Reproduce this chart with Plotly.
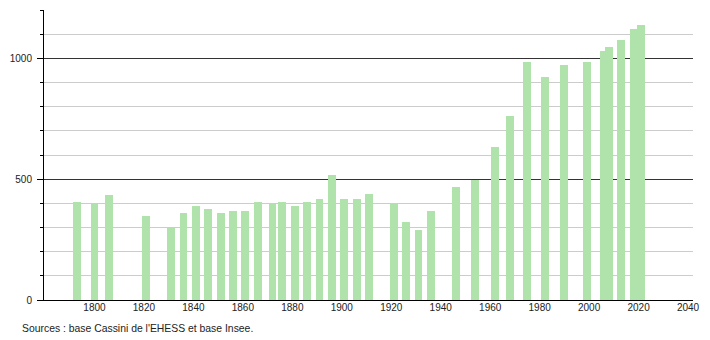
import plotly.graph_objects as go

years = [1793, 1800, 1806, 1821, 1831, 1836, 1841, 1846, 1851, 1856, 1861, 1866,
         1872, 1876, 1881, 1886, 1891, 1896, 1901, 1906, 1911, 1921, 1926, 1931,
         1936, 1946, 1954, 1962, 1968, 1975, 1982, 1990, 1999, 2006, 2008, 2013,
         2018, 2021]
population = [404, 398, 433, 348, 297, 362, 391, 377, 358, 369, 369, 406,
              401, 406, 390, 405, 419, 518, 418, 418, 440, 402, 323, 290,
              369, 467, 496, 632, 763, 985, 921, 971, 983, 1030, 1048, 1074,
              1120, 1139]
x_ticks = [1800, 1820, 1840, 1860, 1880, 1900, 1920, 1940, 1960, 1980, 2000, 2020, 2040]
y_ticks = [0, 500, 1000]
source = "Sources : base Cassini de l'EHESS et base Insee."

FONT = "Liberation Sans, Arial, sans-serif"

fig = go.Figure()
fig.add_trace(go.Bar(
    x=years, y=population, width=3.2,
    marker=dict(color="#b0e3ab", line=dict(width=0)),
    hoverinfo="x+y",
))

fig.update_layout(
    width=710, height=340,
    margin=dict(l=44, r=10, t=10, b=40),
    paper_bgcolor="white", plot_bgcolor="white",
    showlegend=False,
    bargap=0,
    font=dict(family=FONT, size=10, color="#222"),
)
fig.update_xaxes(
    range=[1779.6, 2042], tickvals=x_ticks, ticks="", showgrid=False,
    showline=True, linecolor="#000", linewidth=1, zeroline=False,
    tickfont=dict(size=10, color="#222"), ticklabelstandoff=-2,
)
fig.update_yaxes(
    range=[0, 1200], tickvals=y_ticks, ticks="outside", ticklen=6, tickcolor="#000",
    showgrid=True, gridcolor="#333", gridwidth=1,
    showline=True, linecolor="#000", linewidth=1, zeroline=False,
    minor=dict(dtick=100, tick0=0, ticks="outside", ticklen=3, tickcolor="#000",
               showgrid=True, gridcolor="#cccccc", gridwidth=1),
    tickfont=dict(size=10, color="#222"), ticklabelstandoff=3,
)
fig.add_annotation(
    text=source, xref="paper", yref="paper", x=(20 - 44) / 656, y=(300 - 328) / 290,
    xanchor="left", yanchor="middle", showarrow=False,
    font=dict(family=FONT, size=10.4, color="#222"),
)
fig.write_html("out.html")
